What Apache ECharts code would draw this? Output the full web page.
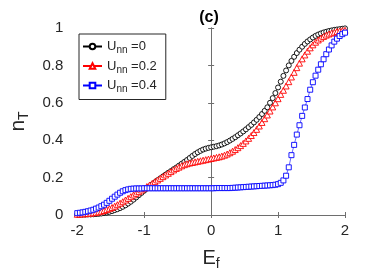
<!DOCTYPE html>
<html><head><meta charset="utf-8">
<script src="https://cdn.jsdelivr.net/npm/echarts@6/dist/echarts.min.js"></script>
<style>html,body{margin:0;padding:0;background:#fff}#c{width:382px;height:276px}</style>
</head><body><div id="c"></div>
<script>
// sampling grid of E_f (step 0.04 from -2 to 2)
const xMin = -2, xMax = 2, xStep = 0.04;
const xTicks = [-2, -1, 0, 1, 2];
const yTicks = [0, 0.2, 0.4, 0.6, 0.8, 1];
const seriesNames = ['0', '0.2', '0.4'];

const nT_U0 = [
0.002,0.002,0.002,0.002,0.003,0.003,0.004,0.005,0.006,0.008,
0.010,0.013,0.017,0.021,0.026,0.031,0.037,0.044,0.052,0.061,
0.071,0.082,0.094,0.106,0.118,0.130,0.142,0.153,0.164,0.175,
0.186,0.196,0.206,0.216,0.226,0.235,0.245,0.254,0.264,0.274,
0.284,0.294,0.305,0.316,0.326,0.335,0.343,0.350,0.355,0.359,
0.362,0.365,0.368,0.372,0.377,0.383,0.390,0.398,0.407,0.416,
0.426,0.436,0.447,0.458,0.470,0.482,0.495,0.509,0.524,0.540,
0.557,0.576,0.600,0.625,0.652,0.682,0.713,0.744,0.773,0.800,
0.824,0.846,0.866,0.884,0.900,0.915,0.928,0.939,0.949,0.958,
0.965,0.971,0.976,0.980,0.984,0.987,0.990,0.992,0.994,0.996,
0.998];

const nT_U02 = [
0.004,0.005,0.006,0.007,0.008,0.010,0.012,0.014,0.017,0.020,
0.024,0.029,0.034,0.040,0.047,0.055,0.063,0.071,0.080,0.089,
0.098,0.107,0.116,0.125,0.134,0.143,0.152,0.160,0.169,0.178,
0.187,0.196,0.205,0.214,0.223,0.232,0.241,0.249,0.256,0.263,
0.269,0.274,0.278,0.281,0.284,0.287,0.290,0.293,0.296,0.299,
0.302,0.305,0.308,0.311,0.315,0.320,0.326,0.333,0.341,0.350,
0.360,0.371,0.383,0.396,0.410,0.425,0.441,0.458,0.476,0.495,
0.515,0.535,0.556,0.578,0.600,0.622,0.645,0.667,0.690,0.713,
0.738,0.763,0.788,0.812,0.835,0.856,0.876,0.894,0.910,0.924,
0.936,0.946,0.955,0.962,0.968,0.973,0.977,0.981,0.984,0.986,
0.988];

const nT_U04 = [
0.010,0.012,0.014,0.017,0.020,0.024,0.028,0.034,0.040,0.047,
0.055,0.065,0.076,0.087,0.098,0.109,0.119,0.127,0.133,0.137,
0.140,0.141,0.142,0.142,0.142,0.143,0.143,0.143,0.143,0.143,
0.143,0.143,0.143,0.143,0.143,0.143,0.143,0.143,0.143,0.143,
0.143,0.143,0.143,0.143,0.143,0.143,0.143,0.143,0.143,0.143,
0.143,0.143,0.144,0.144,0.144,0.144,0.144,0.144,0.145,0.146,
0.147,0.148,0.149,0.150,0.151,0.152,0.153,0.154,0.155,0.156,
0.157,0.158,0.159,0.160,0.162,0.165,0.172,0.185,0.210,0.255,
0.320,0.375,0.430,0.480,0.530,0.575,0.620,0.670,0.710,0.745,
0.777,0.806,0.833,0.860,0.885,0.907,0.927,0.943,0.957,0.967,
0.975];

const xs = nT_U0.map((_, i) => +(xMin + i * xStep).toFixed(2));
const pair = arr => arr.map((v, i) => [xs[i], v]);

const chart = echarts.init(document.getElementById('c'));
const font = 'Liberation Sans, Arial, sans-serif';
const axisCol = '#6e6e6e';
const txtCol = '#262626';
const legendRich = {
  u: {fontSize: 13, color: txtCol, fontFamily: font},
  s: {fontSize: 10, color: txtCol, fontFamily: font, padding: [8, 0, 0, 0]},
  v: {fontSize: 13, color: txtCol, fontFamily: font}
};
const mkName = v => 'U_nn=' + v;
function baseSeries(name, data, color, symbol, size) {
  return {
    name: name, type: 'line', data: data, symbol: symbol, symbolSize: size,
    showSymbol: true, animation: false,
    lineStyle: {color: color, width: 0.6},
    itemStyle: {color: '#ffffff', borderColor: color, borderWidth: 0.9},
    emphasis: {disabled: true}, z: 3
  };
}
chart.setOption({
  animation: false,
  backgroundColor: '#ffffff',
  title: {text: '(c)', left: 204, top: 5, textAlign: 'center',
    textStyle: {fontSize: 16, fontWeight: 'bold', color: '#000', fontFamily: font}},
  grid: {left: 68, right: 37, top: 28, bottom: 61},
  legend: {
    orient: 'vertical', left: 79, top: 34,
    padding: [6, 9, 5, 3], itemGap: 4, itemWidth: 19, itemHeight: 7,
    borderColor: '#262626', borderWidth: 1, backgroundColor: '#ffffff',
    data: seriesNames.map(mkName),
    formatter: n => '{u|U}{s|nn}{v| =' + n.split('=')[1] + '}',
    textStyle: {rich: legendRich, padding: [0, 0, 0, 0]},
    selectedMode: false
  },
  xAxis: [{
    type: 'value', min: xMin, max: xMax, interval: 1,
    name: '{a|E}{b|f}', nameLocation: 'middle', nameGap: 30,
    nameTextStyle: {rich: {a: {fontSize: 20, color: txtCol, fontFamily: font},
      b: {fontSize: 14, color: txtCol, fontFamily: font, padding: [12, 0, 0, 0]}}},
    axisLine: {show: true, lineStyle: {color: axisCol, width: 1}},
    axisTick: {show: true, inside: true, length: 3, lineStyle: {color: axisCol}},
    axisLabel: {fontSize: 15, color: txtCol, fontFamily: font, margin: 8},
    splitLine: {show: false}
  }, {
    type: 'value', position: 'top', min: xMin, max: xMax, interval: 1,
    axisLine: {show: true, lineStyle: {color: axisCol, width: 1}},
    axisTick: {show: true, inside: true, length: 3, lineStyle: {color: axisCol}},
    axisLabel: {show: false}, splitLine: {show: false}
  }],
  yAxis: [{
    type: 'value', min: 0, max: 1, interval: 0.2,
    name: '{a|n}{b|T}', nameLocation: 'middle', nameGap: 44, nameRotate: 90,
    nameTextStyle: {rich: {a: {fontSize: 21, color: txtCol, fontFamily: font},
      b: {fontSize: 14, color: txtCol, fontFamily: font, padding: [12, 0, 0, 0]}}},
    axisLine: {show: true, lineStyle: {color: axisCol, width: 1}},
    axisTick: {show: true, inside: true, length: 3, lineStyle: {color: axisCol}},
    axisLabel: {fontSize: 15, color: txtCol, fontFamily: font, margin: 14,
      formatter: v => String(+v.toFixed(1))},
    splitLine: {show: false}
  }, {
    type: 'value', position: 'right', min: 0, max: 1, interval: 0.2,
    axisLine: {show: true, lineStyle: {color: axisCol, width: 1}},
    axisTick: {show: true, inside: true, length: 3, lineStyle: {color: axisCol}},
    axisLabel: {show: false}, splitLine: {show: false}
  }],
  series: [
    baseSeries(mkName(seriesNames[0]), pair(nT_U0), '#000000', 'circle', 5),
    baseSeries(mkName(seriesNames[1]), pair(nT_U02), '#ff0000', 'triangle', 6),
    baseSeries(mkName(seriesNames[2]), pair(nT_U04), '#0000ff', 'rect', 5)
  ]
});
</script></body></html>
